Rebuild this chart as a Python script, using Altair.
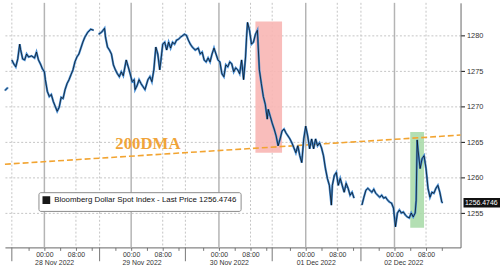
import altair as alt
import pandas as pd

# ---------------- data (x = trading hours since 28 Nov 00:00, compressed session time) -------------
session0 = [(-10, 1272.26), (-9.25, 1272.68)]
session1 = [(-8.25, 1276.57), (-7.75, 1276.01), (-7.25, 1275.60), (-6.75, 1276.71), (-6.25, 1278.79),
            (-6, 1277.96), (-5.5, 1276.71), (-5, 1276.57), (-4.5, 1277.40), (-4, 1276.99),
            (-3.25, 1277.13), (-2.5, 1276.85), (-2, 1277.68), (-1.5, 1276.57), (-1, 1276.01),
            (-0.5, 1275.32), (0, 1274.90), (0.25, 1273.79), (0.75, 1272.13), (1.25, 1271.43),
            (1.75, 1271.71), (2.25, 1270.74), (2.75, 1270.04), (3.25, 1269.35), (3.75, 1269.90),
            (4.25, 1271.29), (4.75, 1271.15), (5.25, 1272.40), (5.75, 1273.24), (6.25, 1273.79),
            (6.75, 1274.49), (7.25, 1275.18), (7.75, 1276.29), (8.25, 1276.99), (8.75, 1277.40),
            (9.25, 1278.24), (9.75, 1279.07), (10.25, 1279.76), (11, 1280.46), (11.75, 1280.88),
            (12.5, 1280.74)]
session2 = [(13.75, 1280.18), (14.5, 1280.46), (15.25, 1281.01), (15.5, 1279.76), (16, 1278.38),
            (16.5, 1277.96), (17, 1277.40), (17.5, 1275.88), (18, 1275.18), (18.5, 1274.63),
            (19, 1274.21), (19.5, 1274.90), (20, 1274.35), (20.75, 1276.57), (21.25, 1275.60),
            (21.75, 1274.63), (22.25, 1273.51), (22.75, 1273.79), (23, 1272.40), (23.5, 1272.96),
            (24, 1273.79), (24.5, 1273.24), (25, 1272.82), (25.5, 1272.40), (26.25, 1273.79),
            (26.75, 1274.21), (27.25, 1273.51), (27.75, 1275.18), (28.25, 1278.38), (28.75, 1277.40),
            (29.25, 1275.18), (29.5, 1276.29), (30, 1278.79), (30.5, 1279.07), (31, 1277.96),
            (31.5, 1279.07), (32, 1278.24), (32.5, 1279.07), (33, 1278.79), (33.5, 1279.35),
            (34, 1279.49), (34.5, 1279.76), (35.5, 1280.18), (36, 1280.04), (36.5, 1279.35),
            (37, 1278.79), (37.5, 1278.38), (38.25, 1277.96), (39, 1278.24), (39.5, 1277.40),
            (40, 1277.68), (40.5, 1276.57), (41, 1276.29), (41.5, 1276.85), (42, 1276.29),
            (42.5, 1277.40), (43, 1278.24), (43.5, 1277.40), (44, 1276.57), (44.5, 1276.29),
            (45, 1274.63), (45.5, 1274.21), (46, 1275.88), (46.5, 1275.60), (47, 1276.29),
            (47.5, 1276.01), (48, 1274.90), (48.5, 1275.46), (49, 1275.18), (49.5, 1274.63),
            (50, 1276.57), (50.5, 1273.79), (51, 1276.99), (51.25, 1279.76), (51.5, 1281.85),
            (52, 1280.74), (52.5, 1278.79), (53, 1279.07), (53.5, 1280.18), (54, 1280.74),
            (54.25, 1277.96), (54.5, 1275.18), (55, 1273.24), (55.5, 1271.43), (56, 1270.32),
            (56.5, 1268.24), (56.75, 1269.63), (57.25, 1268.65), (57.75, 1267.68), (58.25, 1266.85),
            (58.75, 1265.88), (59.25, 1264.49), (59.75, 1265.46), (60.25, 1266.57), (60.75, 1266.85),
            (61.25, 1266.29), (61.75, 1265.88), (62.25, 1265.46), (62.75, 1264.90), (63.25, 1264.21),
            (63.75, 1263.51), (64.25, 1264.49), (64.75, 1263.10), (65.25, 1262.13), (65.75, 1265.46),
            (66.25, 1267.26), (66.75, 1265.88), (67.25, 1264.07), (67.75, 1265.46), (68.25, 1264.07),
            (68.75, 1265.46), (69.25, 1264.49), (69.75, 1264.90), (70.25, 1264.21), (70.75, 1263.10),
            (71.25, 1261.29), (71.75, 1259.90), (72.25, 1258.93), (72.75, 1256.15), (73, 1258.93),
            (73.5, 1260.32), (74, 1260.74), (74.5, 1258.93), (75, 1259.90), (75.5, 1258.93),
            (76, 1257.96), (76.5, 1259.21), (77, 1258.51), (77.5, 1257.54), (78, 1257.96),
            (78.5, 1257.13)]
session3 = [(80.5, 1256.15), (81, 1257.26), (81.5, 1258.24), (82, 1258.51), (82.5, 1258.24),
            (83, 1257.96), (83.5, 1258.38), (84, 1257.82), (84.5, 1257.54), (85, 1257.26),
            (85.5, 1257.54), (86, 1257.13), (86.5, 1257.26), (87, 1256.85), (87.5, 1256.57),
            (88, 1256.43), (88.5, 1255.74), (89, 1253.10), (89.5, 1255.04), (90, 1255.46),
            (90.5, 1255.04), (91, 1255.18), (91.5, 1254.76), (92, 1254.49), (92.5, 1254.35),
            (93, 1255.04), (93.5, 1254.49), (94, 1255.04), (94.25, 1256.85), (94.5, 1265.32),
            (94.75, 1263.79), (95.25, 1261.29), (95.75, 1262.68), (96.25, 1263.10), (96.75, 1261.29),
            (97.25, 1258.51), (97.75, 1257.26), (98.25, 1257.96), (98.75, 1257.82), (99.25, 1258.51),
            (99.75, 1258.93), (100.25, 1257.96), (100.75, 1256.57), (101, 1256.4746)]

series_name = "Bloomberg Dollar Spot Index - Last Price 1256.4746"
last_price = 1256.4746
last_label = "1256.4746"

day_starts = [0, 22, 44.25, 66.25, 88.75]          # 00:00 of each day
eight_am = [8, 30, 52.25, 74.25, 96.75]            # 08:00 of each day
session_breaks = [-8.25, 14, 35.75, 57.75, 80.25]  # session separators
minor_ticks = [-4, 4, 12, 18, 26, 34, 40.25, 48.25, 56.25, 62.25, 70.25, 78.25, 84.75, 92.75, 100.75]
date_labels = ["28 Nov 2022", "29 Nov 2022", "30 Nov 2022", "01 Dec 2022", "02 Dec 2022"]
date_label_pos = [2.6, 24.75, 46.9, 68.9, 91.1]

dma_h = [-10, 105.5]
dma_p = [1261.9, 1266.0]
dma_text_h = 26.25
dma_text_p = 1264.8

box_h0 = [53.5, 92.75]
box_h1 = [60.25, 96.25]
box_lo = [1263.51, 1252.96]
box_hi = [1281.99, 1266.43]
box_colors = ["#f8b6b4", "#abdcab"]

y_ticks = [1255, 1260, 1265, 1270, 1275, 1280]
x_domain = [-10, 105.5]
y_domain = [1250.2, 1284.6]

# ---------------- build tables -------------
rows = []
for sid, sess in enumerate([session0, session1, session2, session3]):
    for h, p in sess:
        rows.append({"h": h, "p": p, "seg": sid, "series": series_name})
price = pd.DataFrame(rows)

W, H = 462, 248
FONT = "Liberation Sans"
xs = alt.Scale(domain=x_domain, nice=False, zero=False)
ys = alt.Scale(domain=y_domain, nice=False, zero=False)

tick_vals = sorted(day_starts + eight_am + minor_ticks)
label_expr = (f"indexof({day_starts}, datum.value) >= 0 ? '00:00' : "
              f"(indexof({eight_am}, datum.value) >= 0 ? '08:00' : '')")
x_axis = alt.Axis(title=None, values=tick_vals, labelExpr=label_expr, grid=False,
                  tickSize=3, tickColor="#777", domainColor="#666", labelFontSize=7,
                  labelColor="#333", labelFont=FONT, labelOverlap=False, labelPadding=0)
y_axis = alt.Axis(title=None, orient="right", values=y_ticks, format="d", tickSize=4,
                  tickColor="#111", domainColor="#666", gridDash=[2, 2], gridColor="#c4c4c4",
                  labelFontSize=7.5, labelColor="#333", labelFont=FONT, labelPadding=2)


def X(field):
    return alt.X(field, scale=xs, axis=x_axis)


def Y(field):
    return alt.Y(field, scale=ys, axis=y_axis)


solid_grid = alt.Chart(pd.DataFrame({"h": day_starts})).mark_rule(
    color="#b4b4b4", strokeWidth=1.5).encode(x=X("h:Q"))
dash_grid = alt.Chart(pd.DataFrame({"h": eight_am + session_breaks})).mark_rule(
    color="#c4c4c4", strokeWidth=1, strokeDash=[2, 2]).encode(x=X("h:Q"))

boxes = alt.Chart(pd.DataFrame({"h": box_h0, "h1": box_h1, "p": box_lo, "p1": box_hi,
                                "c": box_colors})).mark_rect(opacity=0.9).encode(
    x=X("h:Q"), x2="h1:Q", y=Y("p:Q"), y2="p1:Q", color=alt.Color("c:N", scale=None))

dma = alt.Chart(pd.DataFrame({"h": dma_h, "p": dma_p})).mark_line(
    color="#f2a431", strokeWidth=1.6, strokeDash=[6, 3]).encode(x=X("h:Q"), y=Y("p:Q"))
dma_text = alt.Chart(pd.DataFrame({"h": [dma_text_h], "p": [dma_text_p], "t": ["200DMA"]})).mark_text(
    font="Liberation Serif", fontSize=17, fontWeight="bold", color="#f0a43a").encode(
    x=X("h:Q"), y=Y("p:Q"), text="t:N")

blue_line = alt.Chart(price).mark_line(color="#4a90d6", strokeWidth=2.2).encode(
    x=X("h:Q"), y=Y("p:Q"), detail="seg:N", order="h:Q")
black_line = alt.Chart(price).mark_line(strokeWidth=0.8, opacity=0.85).encode(
    x=X("h:Q"), y=Y("p:Q"), detail="seg:N", order="h:Q",
    color=alt.Color("series:N", scale=alt.Scale(range=["#000000"]),
                    legend=alt.Legend(title=None, orient="none", legendX=34, legendY=192,
                                      symbolType="square", symbolSize=40,
                                      symbolFillColor="#000", symbolStrokeColor="#000",
                                      labelFontSize=8, labelFont=FONT, labelColor="#111",
                                      fillColor="white", strokeColor="#8a8a8a", padding=4,
                                      cornerRadius=2, labelLimit=400)))

sep_ticks = alt.Chart(pd.DataFrame({"h": session_breaks})).mark_rule(
    color="#777", strokeWidth=1).encode(x=X("h:Q"), y=alt.value(H), y2=alt.value(H + 14))
dates = alt.Chart(pd.DataFrame({"h": date_label_pos, "t": date_labels})).mark_text(
    fontSize=7, font=FONT, color="#333", baseline="middle").encode(
    x=X("h:Q"), y=alt.value(H + 15.5), text="t:N")

last_box = alt.Chart(pd.DataFrame({"p": [last_price + 0.66], "p1": [last_price - 0.66]})).mark_rect(
    color="#111").encode(x=alt.value(W + 3), x2=alt.value(W + 40), y=Y("p:Q"), y2="p1:Q")
last_text = alt.Chart(pd.DataFrame({"p": [last_price], "t": [last_label]})).mark_text(
    fontSize=7, font=FONT, color="white", align="center", baseline="middle").encode(
    x=alt.value(W + 21), y=Y("p:Q"), text="t:N")

chart = alt.layer(solid_grid, dash_grid, boxes, dma, blue_line, black_line, dma_text,
                  sep_ticks, dates, last_box, last_text).properties(
    width=W, height=H, padding=0, background="white"
).configure_view(strokeWidth=0)

chart.save("out.html", embed_options={"renderer": "svg", "actions": False})
